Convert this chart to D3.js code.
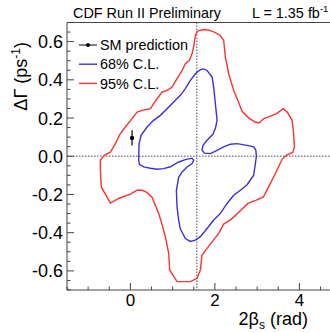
<!DOCTYPE html>
<html>
<head>
<meta charset="utf-8">
<script src="https://cdn.jsdelivr.net/npm/d3@7"></script>
<style>
  body { margin: 0; background: #fff; }
  text { font-family: 'Liberation Sans', Arial, sans-serif; fill: #000; }
</style>
</head>
<body>
<div id="display"></div>
<script>
// 95% C.L. contour, (2beta_s, dGamma) pairs, clockwise from the top
const cl95 = [
  [1.586, 0.655], [1.728, 0.663], [1.846, 0.661], [1.988, 0.650], [2.130, 0.632],
  [2.208, 0.606], [2.249, 0.519], [2.327, 0.432], [2.445, 0.345], [2.544, 0.292],
  [2.644, 0.235], [2.800, 0.201], [2.959, 0.178], [3.053, 0.175], [3.155, 0.197],
  [3.273, 0.206], [3.456, 0.223], [3.621, 0.249], [3.716, 0.230], [3.827, 0.188],
  [3.865, 0.119], [3.882, 0.049], [3.846, 0.021], [3.692, 0.005], [3.591, -0.016],
  [3.432, -0.090], [3.273, -0.160], [3.148, -0.213], [2.982, -0.230], [2.781, -0.247],
  [2.604, -0.285], [2.391, -0.329], [2.208, -0.355], [2.090, -0.404], [1.934, -0.448],
  [1.815, -0.482], [1.697, -0.517], [1.657, -0.595], [1.579, -0.639], [1.420, -0.656],
  [1.105, -0.656], [0.930, -0.595], [0.907, -0.508], [0.828, -0.421], [0.734, -0.345],
  [0.670, -0.299], [0.514, -0.214], [0.379, -0.188], [0.277, -0.178], [0.159, -0.178],
  [0.000, -0.198], [-0.277, -0.221], [-0.473, -0.245], [-0.551, -0.214], [-0.686, -0.162],
  [-0.710, -0.073], [-0.710, -0.021], [-0.615, 0.005], [-0.473, 0.021], [-0.355, 0.066],
  [-0.237, 0.119], [-0.118, 0.153], [0.040, 0.197], [0.159, 0.231], [0.277, 0.240],
  [0.473, 0.249], [0.632, 0.301], [0.750, 0.336], [0.869, 0.345], [0.987, 0.362],
  [1.105, 0.406], [1.224, 0.449], [1.302, 0.484], [1.396, 0.501], [1.460, 0.536],
  [1.503, 0.580], [1.538, 0.632],
];

// 68% C.L. contour
const cl68 = [
  [1.657, 0.453], [1.728, 0.457], [1.815, 0.449], [1.934, 0.414], [1.972, 0.362],
  [2.012, 0.275], [2.052, 0.188], [2.012, 0.146], [1.953, 0.115], [1.815, 0.084],
  [1.721, 0.057], [1.692, 0.034], [1.751, 0.016], [1.893, 0.014], [2.052, 0.031],
  [2.208, 0.049], [2.367, 0.063], [2.525, 0.066], [2.762, 0.057], [2.918, 0.049],
  [2.970, 0.031], [2.982, 0.000], [2.959, -0.038], [2.918, -0.099], [2.762, -0.149],
  [2.604, -0.178], [2.445, -0.204], [2.289, -0.247], [2.130, -0.299], [1.972, -0.334],
  [1.815, -0.378], [1.657, -0.421], [1.538, -0.439], [1.420, -0.446], [1.302, -0.431],
  [1.183, -0.381], [1.143, -0.334], [1.105, -0.266], [1.089, -0.178], [1.143, -0.110],
  [1.224, -0.082], [1.342, -0.056], [1.460, -0.038], [1.498, -0.021], [1.460, -0.010],
  [1.302, -0.018], [1.143, -0.030], [0.947, -0.055], [0.788, -0.065], [0.632, -0.068],
  [0.473, -0.063], [0.315, -0.056], [0.213, -0.042], [0.196, -0.021], [0.206, 0.066],
  [0.253, 0.110], [0.395, 0.153], [0.551, 0.188], [0.710, 0.214], [0.869, 0.249],
  [1.025, 0.284], [1.183, 0.319], [1.302, 0.354], [1.420, 0.397], [1.538, 0.432],
];

// SM prediction: 2beta_s, dGamma, error on dGamma
const smPoint = [0.04, 0.096, 0.040];

const xMajor = [0, 2, 4];
const yMajor = [-0.6, -0.4, -0.2, 0.0, 0.2, 0.4, 0.6];
const legendLabels = ['SM prediction', '68% C.L.', '95% C.L.'];
const legendColors = ['#000', '#3b2fe0', '#ff3030'];

const margin = {top: 22.5, left: 67, bottom: 43};
const W = 330;
const H = 333;

const svg = d3.select('#display').append('svg')
    .attr('width', W)
    .attr('height', H);

const x = d3.scaleLinear().domain([-1.5, 4.8])
    .range([margin.left, margin.left + 6.3 * 42.25]);
const y = d3.scaleLinear().domain([-0.7, 0.7])
    .range([H - margin.bottom, margin.top]);

svg.append('clipPath').attr('id', 'clip')
    .append('rect')
    .attr('x', x(-1.5)).attr('y', y(0.7))
    .attr('width', x(4.8) - x(-1.5)).attr('height', y(-0.7) - y(0.7));

const plot = svg.append('g').attr('clip-path', 'url(#clip)');

// dotted reference lines at dGamma = 0 and 2beta_s = pi/2
plot.append('line')
    .attr('x1', x(-1.5)).attr('x2', x(4.8))
    .attr('y1', y(0)).attr('y2', y(0))
    .attr('stroke', '#888').attr('stroke-width', 1.5)
    .attr('stroke-dasharray', '1.5,1.5');
plot.append('line')
    .attr('x1', x(Math.PI / 2)).attr('x2', x(Math.PI / 2))
    .attr('y1', y(0.7)).attr('y2', y(-0.7))
    .attr('stroke', '#888').attr('stroke-width', 1.5)
    .attr('stroke-dasharray', '1.5,1.5');

const contour = d3.line()
    .x((d) => x(d[0]))
    .y((d) => y(d[1]))
    .curve(d3.curveLinearClosed);

plot.append('path').datum(cl95)
    .attr('d', contour)
    .attr('fill', 'none').attr('stroke', legendColors[2]).attr('stroke-width', 1.4);
plot.append('path').datum(cl68)
    .attr('d', contour)
    .attr('fill', 'none').attr('stroke', legendColors[1]).attr('stroke-width', 1.4);

// SM point with error bar
plot.append('line')
    .attr('x1', x(smPoint[0])).attr('x2', x(smPoint[0]))
    .attr('y1', y(smPoint[1] - smPoint[2])).attr('y2', y(smPoint[1] + smPoint[2]))
    .attr('stroke', '#000').attr('stroke-width', 1.2);
plot.append('circle')
    .attr('cx', x(smPoint[0])).attr('cy', y(smPoint[1]))
    .attr('r', 2.2).attr('fill', '#000');

// frame
const axisColor = '#444';
svg.append('line')
    .attr('x1', x(-1.5)).attr('x2', W)
    .attr('y1', y(0.7)).attr('y2', y(0.7))
    .attr('stroke', axisColor);
svg.append('line')
    .attr('x1', x(-1.5)).attr('x2', W)
    .attr('y1', y(-0.7)).attr('y2', y(-0.7))
    .attr('stroke', axisColor);
svg.append('line')
    .attr('x1', x(-1.5)).attr('x2', x(-1.5))
    .attr('y1', y(0.7)).attr('y2', y(-0.7))
    .attr('stroke', axisColor);

// ticks pointing inwards
const xMinor = d3.range(-1.5, 4.81, 0.5);
svg.append('g').selectAll('line')
    .data(xMinor).enter()
    .append('line')
    .attr('x1', (d) => x(d)).attr('x2', (d) => x(d))
    .attr('y1', y(-0.7))
    .attr('y2', (d) => y(-0.7) - (xMajor.includes(d) ? 7 : 3.5))
    .attr('stroke', axisColor);

const yMinor = d3.range(-0.7, 0.701, 0.05).map((d) => Math.round(d * 100) / 100);
svg.append('g').selectAll('line')
    .data(yMinor).enter()
    .append('line')
    .attr('x1', x(-1.5))
    .attr('x2', (d) => x(-1.5) +
        (yMajor.some((m) => Math.abs(m - d) < 1e-6) ? 7 : 3.5))
    .attr('y1', (d) => y(d)).attr('y2', (d) => y(d))
    .attr('stroke', axisColor);

svg.append('g').selectAll('text')
    .data(xMajor).enter()
    .append('text')
    .attr('x', (d) => x(d))
    .attr('y', y(-0.7) + 16)
    .attr('text-anchor', 'middle')
    .style('font-size', '17px')
    .text((d) => d);

svg.append('g').selectAll('text')
    .data(yMajor).enter()
    .append('text')
    .attr('x', x(-1.5) - 4)
    .attr('y', (d) => y(d) + 6.5)
    .attr('text-anchor', 'end')
    .style('font-size', '18px')
    .text((d) => d3.format('.1f')(d).replace('−', '-'));

// axis titles
const xTitle = svg.append('text')
    .attr('x', 308).attr('y', 325)
    .attr('text-anchor', 'end')
    .style('font-size', '18px');
xTitle.append('tspan').text('2β');
xTitle.append('tspan').attr('dy', 4).style('font-size', '12px').text('s');
xTitle.append('tspan').attr('dy', -4).text(' (rad)');

const yTitle = svg.append('text')
    .attr('transform', 'translate(27,42) rotate(-90)')
    .attr('text-anchor', 'end')
    .style('font-size', '18px');
yTitle.append('tspan').text('ΔΓ (ps');
yTitle.append('tspan').attr('dy', -7).style('font-size', '12px').text('-1');
yTitle.append('tspan').attr('dy', 7).text(')');

// header texts
svg.append('text')
    .attr('x', 73).attr('y', 17.5)
    .style('font-size', '14.4px')
    .text('CDF Run II Preliminary');
const lumi = svg.append('text')
    .attr('x', 252).attr('y', 17.5)
    .style('font-size', '14.4px');
lumi.append('tspan').text('L = 1.35 fb');
lumi.append('tspan').attr('dy', -6).style('font-size', '9.5px').text('-1');

// legend
const legend = svg.append('g');
legendLabels.forEach((label, i) => {
  const ly = 45 + i * 19.2;
  legend.append('line')
      .attr('x1', 79).attr('x2', 97)
      .attr('y1', ly).attr('y2', ly)
      .attr('stroke', legendColors[i]).attr('stroke-width', i == 0 ? 1 : 1.4);
  if (i == 0) {
    legend.append('circle').attr('cx', 88).attr('cy', ly).attr('r', 2).attr('fill', '#000');
  }
  legend.append('text')
      .attr('x', 100).attr('y', ly + 5.2)
      .style('font-size', '14.4px')
      .text(label);
});
</script>
</body>
</html>
